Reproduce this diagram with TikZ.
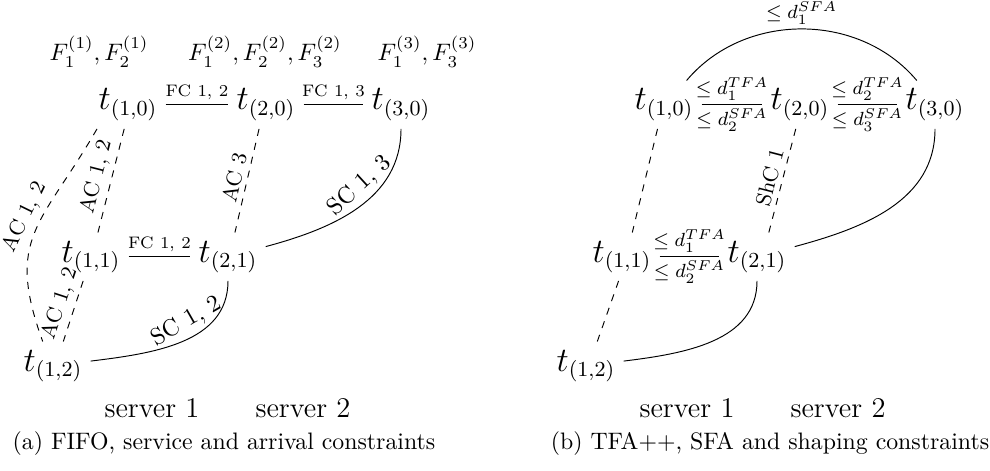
\documentclass[tikz,border=0pt]{standalone}
\begin{document}
\begin{tikzpicture}[x=0.42pt,y=0.42pt,
  tn/.style={font=\fontsize{13.5}{16}\selectfont, anchor=base},
  fl/.style={font=\fontsize{10.3}{12}\selectfont, anchor=base},
  fc/.style={font=\scriptsize, above, inner sep=2pt},
  ac/.style={font=\small, sloped, above, inner sep=2pt},
  sc/.style={font=\normalsize, sloped, above, inner sep=2pt},
  fr/.style={font=\fontsize{8.5}{10}\selectfont, inner sep=1.6pt},
  srv/.style={font=\large, anchor=base},
  captext/.style={font=\normalsize, anchor=base}]
\useasboundingbox (0,0) rectangle (990,-470);

% ---------- left panel ----------
\node[tn] (a10) at (128,-110) {$t_{(1,0)}$};
\node[tn] (a20) at (266,-110) {$t_{(2,0)}$};
\node[tn] (a30) at (401,-110) {$t_{(3,0)}$};
\node[tn] (a11) at (91,-262) {$t_{(1,1)}$};
\node[tn] (a21) at (228,-262) {$t_{(2,1)}$};
\node[tn] (a12) at (53,-371) {$t_{(1,2)}$};

\node[fl] (f1) at (99,-61) {$F_1^{(1)}, F_2^{(1)}$};
\node[fl] (f2) at (265,-61) {$F_1^{(2)}, F_2^{(2)}, F_3^{(2)}$};
\node[fl] (f3) at (427,-61) {$F_1^{(3)}, F_3^{(3)}$};

\draw (a10) -- (a20) node[fc, midway] {FC 1, 2};
\draw (a20) -- (a30) node[fc, midway] {FC 1, 3};
\draw (a11) -- (a21) node[fc, midway] {FC 1, 2};

\draw[dashed] (a10.218) to[out=240, in=110, looseness=1.3] node[ac, pos=0.45] {AC 1, 2} (a12.113);
\draw[dashed] (a10.261) -- (a11.74) node[ac, midway] {AC 1, 2};
\draw[dashed] (a11.252) -- (a12.67) node[ac, pos=0.45] {AC 1, 2};
\draw[dashed] (a20.254) -- (a21.74) node[ac, midway] {AC 3};
\draw (a30.south) to[out=-90, in=15] node[sc, pos=0.42] {SC 1, 3} (a21.15);
\draw (a21.south) to[out=-90, in=7] node[sc, pos=0.42] {SC 1, 2} (a12.7);

\node[srv] (s1a) at (152,-417) {server 1};
\node[srv] (s2a) at (303,-417) {server 2};
\node[captext] (capa) at (224,-449) {(a) FIFO, service and arrival constraints};

% ---------- right panel ----------
\node[tn] (b10) at (664,-110) {$t_{(1,0)}$};
\node[tn] (b20) at (800,-110) {$t_{(2,0)}$};
\node[tn] (b30) at (935,-110) {$t_{(3,0)}$};
\node[tn] (b11) at (622,-262) {$t_{(1,1)}$};
\node[tn] (b21) at (757,-262) {$t_{(2,1)}$};
\node[tn] (b12) at (586,-371) {$t_{(1,2)}$};

\draw (b10) -- (b20) node[fr, midway, above] {$\le d_1^{TFA}$} node[fr, midway, below] {$\le d_2^{SFA}$};
\draw (b20) -- (b30) node[fr, midway, above] {$\le d_2^{TFA}$} node[fr, midway, below] {$\le d_3^{SFA}$};
\draw (b11) -- (b21) node[fr, midway, above] {$\le d_1^{TFA}$} node[fr, midway, below] {$\le d_2^{SFA}$};
\draw (b10.47) to[out=50, in=130] node[fr, midway, above] {$\le d_1^{SFA}$} (b30.127);

\draw[dashed] (b10.255) -- (b11.67);
\draw[dashed] (b20.260) -- (b21.64) node[ac, midway] {ShC 1};
\draw[dashed] (b11.262) -- (b12.65);
\draw (b30.south) to[out=-90, in=15] (b21.15);
\draw (b21.south) to[out=-90, in=7] (b12.7);

\node[srv] (s1b) at (687,-417) {server 1};
\node[srv] (s2b) at (838,-417) {server 2};
\node[captext] (capb) at (770,-449) {(b) TFA++, SFA and shaping constraints};
\end{tikzpicture}
\end{document}
